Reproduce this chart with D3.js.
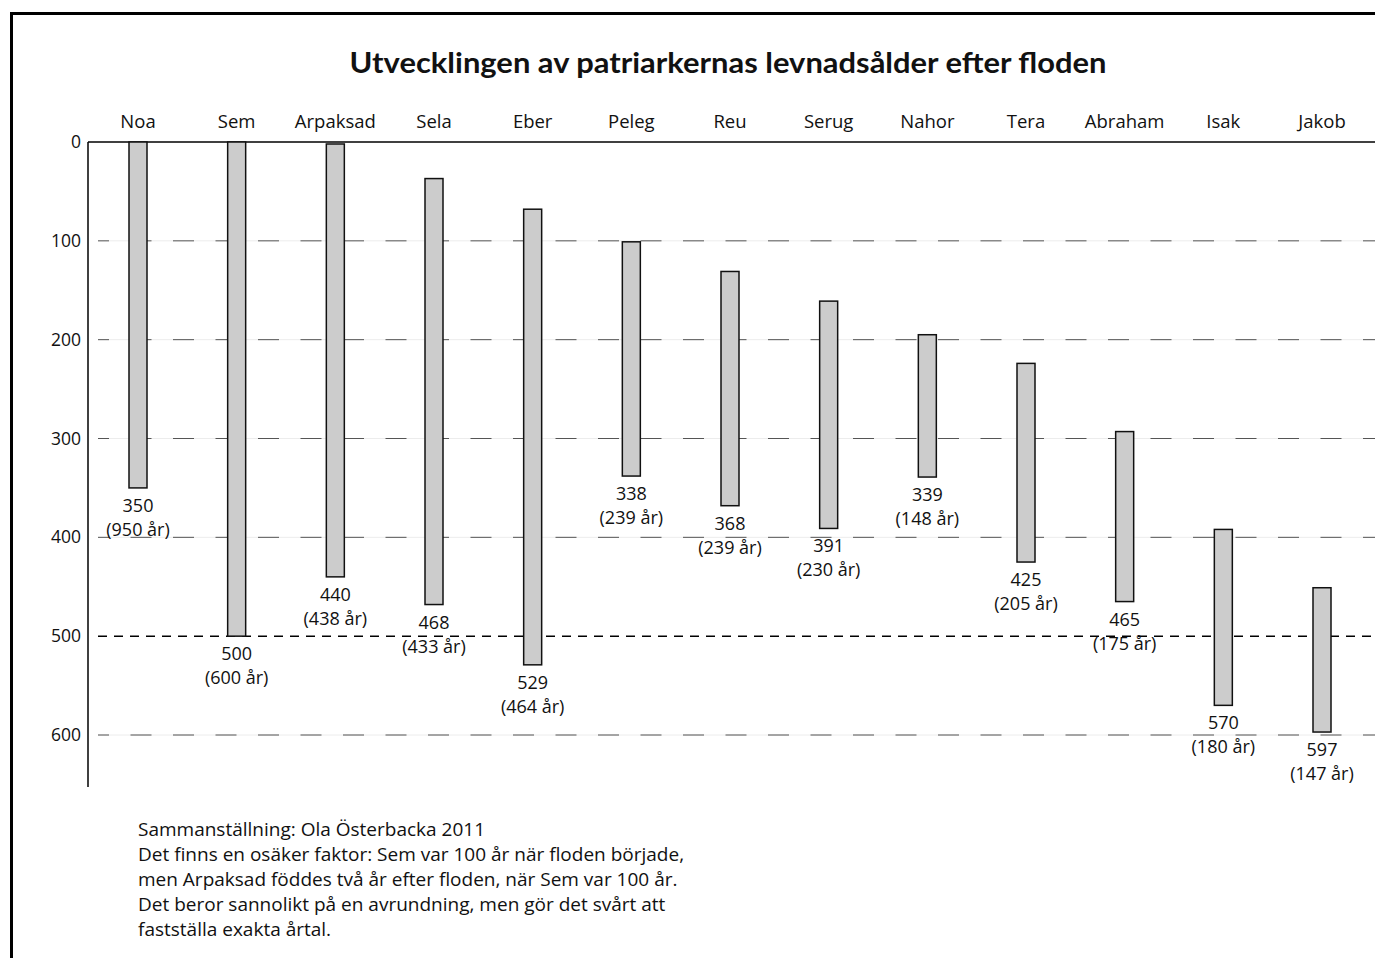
<!DOCTYPE html>
<html>
<head>
<meta charset="utf-8">
<script src="https://cdn.jsdelivr.net/npm/d3@7"></script>
<style>
body { margin: 0; background: #fff; }
text { font-family: "Open Sans", sans-serif; fill: #111; }
</style>
</head>
<body>
<script>
var w = 1375;
var h = 958;

// data: year after the flood
var names = ["Noa", "Sem", "Arpaksad", "Sela", "Eber", "Peleg", "Reu", "Serug", "Nahor", "Tera", "Abraham", "Isak", "Jakob"];
var births = [0, 0, 2, 37, 68, 101, 131, 161, 195, 224, 293, 392, 451];
var deaths = [350, 500, 440, 468, 529, 338, 368, 391, 339, 425, 465, 570, 597];
var lifespans = [950, 600, 438, 433, 464, 239, 239, 230, 148, 205, 175, 180, 147];
var yTicks = [0, 100, 200, 300, 400, 500, 600];

var title = "Utvecklingen av patriarkernas levnadsålder efter floden";
var notes = [
    "Sammanställning: Ola Österbacka 2011",
    "Det finns en osäker faktor: Sem var 100 år när floden började,",
    "men Arpaksad föddes två år efter floden, när Sem var 100 år.",
    "Det beror sannolikt på en avrundning, men gör det svårt att",
    "fastställa exakta årtal."
];

var svg = d3.select("body")
    .append("svg")
    .attr("width", w)
    .attr("height", h);

var x = d3.scalePoint().domain(names).range([138, 1322]);
var y = d3.scaleLinear().domain([0, 600]).range([142, 735]);
var barW = 18;

// frame
svg.append("line").attr("x1", 10).attr("x2", w).attr("y1", 13.5).attr("y2", 13.5)
    .attr("stroke", "#000").attr("stroke-width", 3);
svg.append("line").attr("x1", 11.5).attr("x2", 11.5).attr("y1", 12).attr("y2", h)
    .attr("stroke", "#000").attr("stroke-width", 3);

// title
svg.append("text")
    .attr("x", 728).attr("y", 73)
    .attr("text-anchor", "middle")
    .attr("font-size", 29).attr("font-weight", "bold")
    .attr("textLength", 757).attr("lengthAdjust", "spacingAndGlyphs")
    .style("font-family", "Lato, sans-serif")
    .text(title);

// grid lines
var grid = svg.append("g");
yTicks.filter(function(d) { return d > 0; }).forEach(function(d) {
    if (d === 500) {
        grid.append("line").attr("x1", 98).attr("x2", w).attr("y1", y(d)).attr("y2", y(d))
            .attr("stroke", "#000").attr("stroke-width", 1.5).attr("stroke-dasharray", "9,7");
    } else {
        grid.append("line").attr("x1", 98).attr("x2", w).attr("y1", y(d)).attr("y2", y(d))
            .attr("stroke", "#ececec").attr("stroke-width", 1);
        grid.append("line").attr("x1", 98).attr("x2", w).attr("y1", y(d)).attr("y2", y(d))
            .attr("stroke", "#555").attr("stroke-width", 1)
            .attr("stroke-dasharray", "21,21.5").attr("stroke-dashoffset", 10);
    }
});

// y axis
var yAxis = d3.axisLeft(y).tickValues(yTicks).tickSize(0).tickPadding(7);
var ya = svg.append("g").attr("transform", "translate(88,0)").call(yAxis);
ya.select(".domain").remove();
ya.selectAll("text").attr("font-size", 17.5).style("font-family", "'Open Sans', sans-serif").attr("fill", "#111");
svg.append("line").attr("x1", 88).attr("x2", 88).attr("y1", 142).attr("y2", 787)
    .attr("stroke", "#000").attr("stroke-width", 1.5);
svg.append("line").attr("x1", 88).attr("x2", w).attr("y1", 142).attr("y2", 142)
    .attr("stroke", "#000").attr("stroke-width", 1.5);

// names on top
svg.selectAll(".name")
    .data(names)
    .enter()
    .append("text")
    .attr("class", "name")
    .attr("x", function(d) { return x(d); })
    .attr("y", 128)
    .attr("text-anchor", "middle")
    .attr("font-size", 18.5)
    .text(function(d) { return d; });

// bars
svg.selectAll(".bar")
    .data(names)
    .enter()
    .append("rect")
    .attr("class", "bar")
    .attr("x", function(d) { return x(d) - barW / 2; })
    .attr("y", function(d, i) { return y(births[i]); })
    .attr("width", barW)
    .attr("height", function(d, i) { return y(deaths[i]) - y(births[i]); })
    .attr("fill", "#cccccc")
    .attr("stroke", "#111")
    .attr("stroke-width", 1.5);

// end labels
var lab = svg.selectAll(".lab")
    .data(names)
    .enter()
    .append("text")
    .attr("class", "lab")
    .attr("text-anchor", "middle")
    .attr("font-size", 18);
lab.append("tspan")
    .attr("x", function(d) { return x(d); })
    .attr("y", function(d, i) { return y(deaths[i]) + 24; })
    .text(function(d, i) { return deaths[i]; });
lab.append("tspan")
    .attr("x", function(d) { return x(d); })
    .attr("dy", 24)
    .text(function(d, i) { return "(" + lifespans[i] + " år)"; });

// footnote
svg.selectAll(".note")
    .data(notes)
    .enter()
    .append("text")
    .attr("class", "note")
    .attr("x", 138)
    .attr("y", function(d, i) { return 836 + i * 25; })
    .attr("font-size", 19)
    .text(function(d) { return d; });
</script>
</body>
</html>
